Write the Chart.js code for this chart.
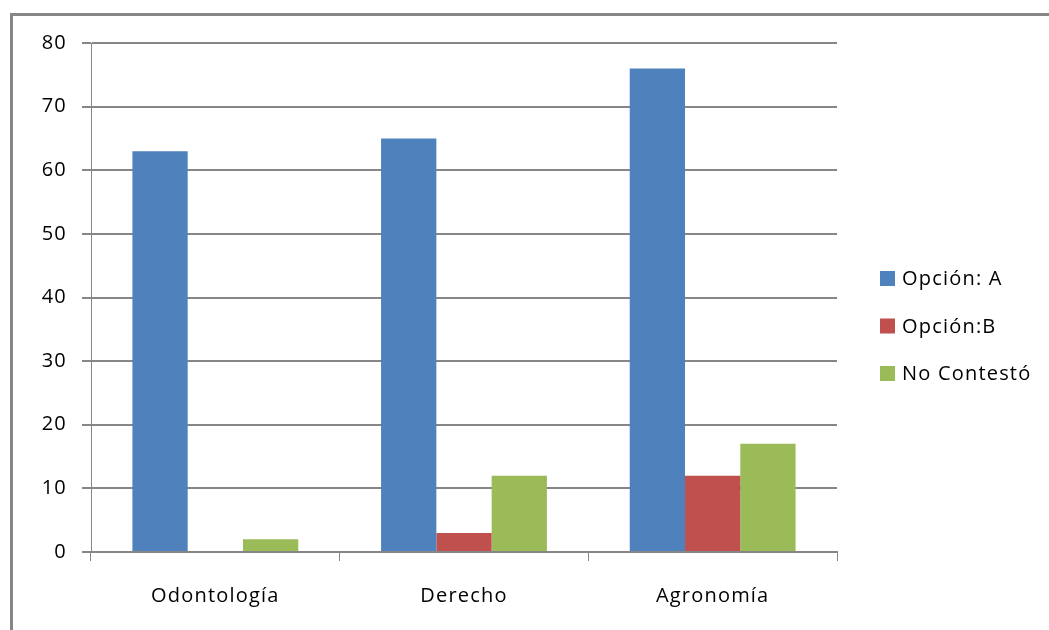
<!DOCTYPE html>
<html>
<head>
<meta charset="utf-8">
<script src="https://cdn.jsdelivr.net/npm/chart.js@4"></script>
<style>
    html, body { margin: 0; padding: 0; background: #fff; }
    #wrap { width: 1049px; height: 630px; position: relative; }
</style>
</head>
<body>
<div id="wrap"><canvas id="barChart" width="1049" height="630"></canvas></div>
<script>
// datos
const categories = ['Odontología', 'Derecho', 'Agronomía'];
const seriesNames = ['Opción: A', 'Opción:B', 'No Contestó'];
const opcionA = [63, 65, 76];
const opcionB = [0, 3, 12];
const noContesto = [2, 12, 17];
const yTicks = [0, 10, 20, 30, 40, 50, 60, 70, 80];

const colors = ['#4F81BD', '#C0504D', '#9BBB59'];
const gridColor = '#868686';
const fontFamily = '"Open Sans", sans-serif';

// espaciado de letras un poco más ancho, como en el original
const spacingPlugin = {
    id: 'spacing',
    beforeInit(chart) { chart.ctx.letterSpacing = '1.2px'; },
    beforeDraw(chart) { chart.ctx.letterSpacing = '1.2px'; }
};

// marco gris y leyenda dibujados a mano
const framePlugin = {
    id: 'frame',
    afterDraw(chart) {
        const ctx = chart.ctx;
        ctx.save();
        ctx.strokeStyle = gridColor;
        ctx.lineWidth = 3;
        ctx.beginPath();
        ctx.moveTo(11.5, 640);
        ctx.lineTo(11.5, 14.5);
        ctx.lineTo(1060, 14.5);
        ctx.stroke();

        // leyenda
        const rows = [278.5, 326, 373.5];
        ctx.font = '20px ' + fontFamily;
        ctx.textBaseline = 'middle';
        chart.data.datasets.forEach((ds, i) => {
            ctx.fillStyle = ds.backgroundColor;
            ctx.fillRect(880, rows[i] - 7.5, 15, 15);
            ctx.fillStyle = '#000';
            ctx.fillText(ds.label, 902, rows[i] + 1);
        });
        ctx.restore();
    }
};

const ctx = document.getElementById('barChart').getContext('2d');
new Chart(ctx, {
    type: 'bar',
    data: {
        labels: categories,
        datasets: [
            { label: seriesNames[0], data: opcionA, backgroundColor: colors[0] },
            { label: seriesNames[1], data: opcionB, backgroundColor: colors[1] },
            { label: seriesNames[2], data: noContesto, backgroundColor: colors[2] }
        ]
    },
    options: {
        responsive: false,
        animation: false,
        devicePixelRatio: 1,
        layout: { padding: { top: 43, right: 212, bottom: 0, left: 0 } },
        datasets: {
            bar: { barPercentage: 1.0, categoryPercentage: 0.667 }
        },
        plugins: {
            legend: { display: false },
            tooltip: { enabled: false }
        },
        scales: {
            x: {
                grid: {
                    offset: true,
                    drawOnChartArea: false,
                    color: gridColor,
                    tickLength: 9,
                    lineWidth: 1
                },
                border: { color: gridColor, width: 2 },
                ticks: {
                    color: '#000',
                    padding: 23,
                    font: { family: fontFamily, size: 20 }
                },
                afterFit(scale) { scale.height = 78; }
            },
            y: {
                min: 0,
                max: 80,
                afterBuildTicks(scale) {
                    scale.ticks = yTicks.map(v => ({ value: v }));
                },
                grid: {
                    color: gridColor,
                    tickLength: 9,
                    lineWidth: 2
                },
                border: { color: gridColor, width: 1 },
                ticks: {
                    color: '#000',
                    padding: 15,
                    font: { family: fontFamily, size: 20 }
                },
                afterFit(scale) { scale.width = 91; }
            }
        }
    },
    plugins: [spacingPlugin, framePlugin]
});
</script>
</body>
</html>
